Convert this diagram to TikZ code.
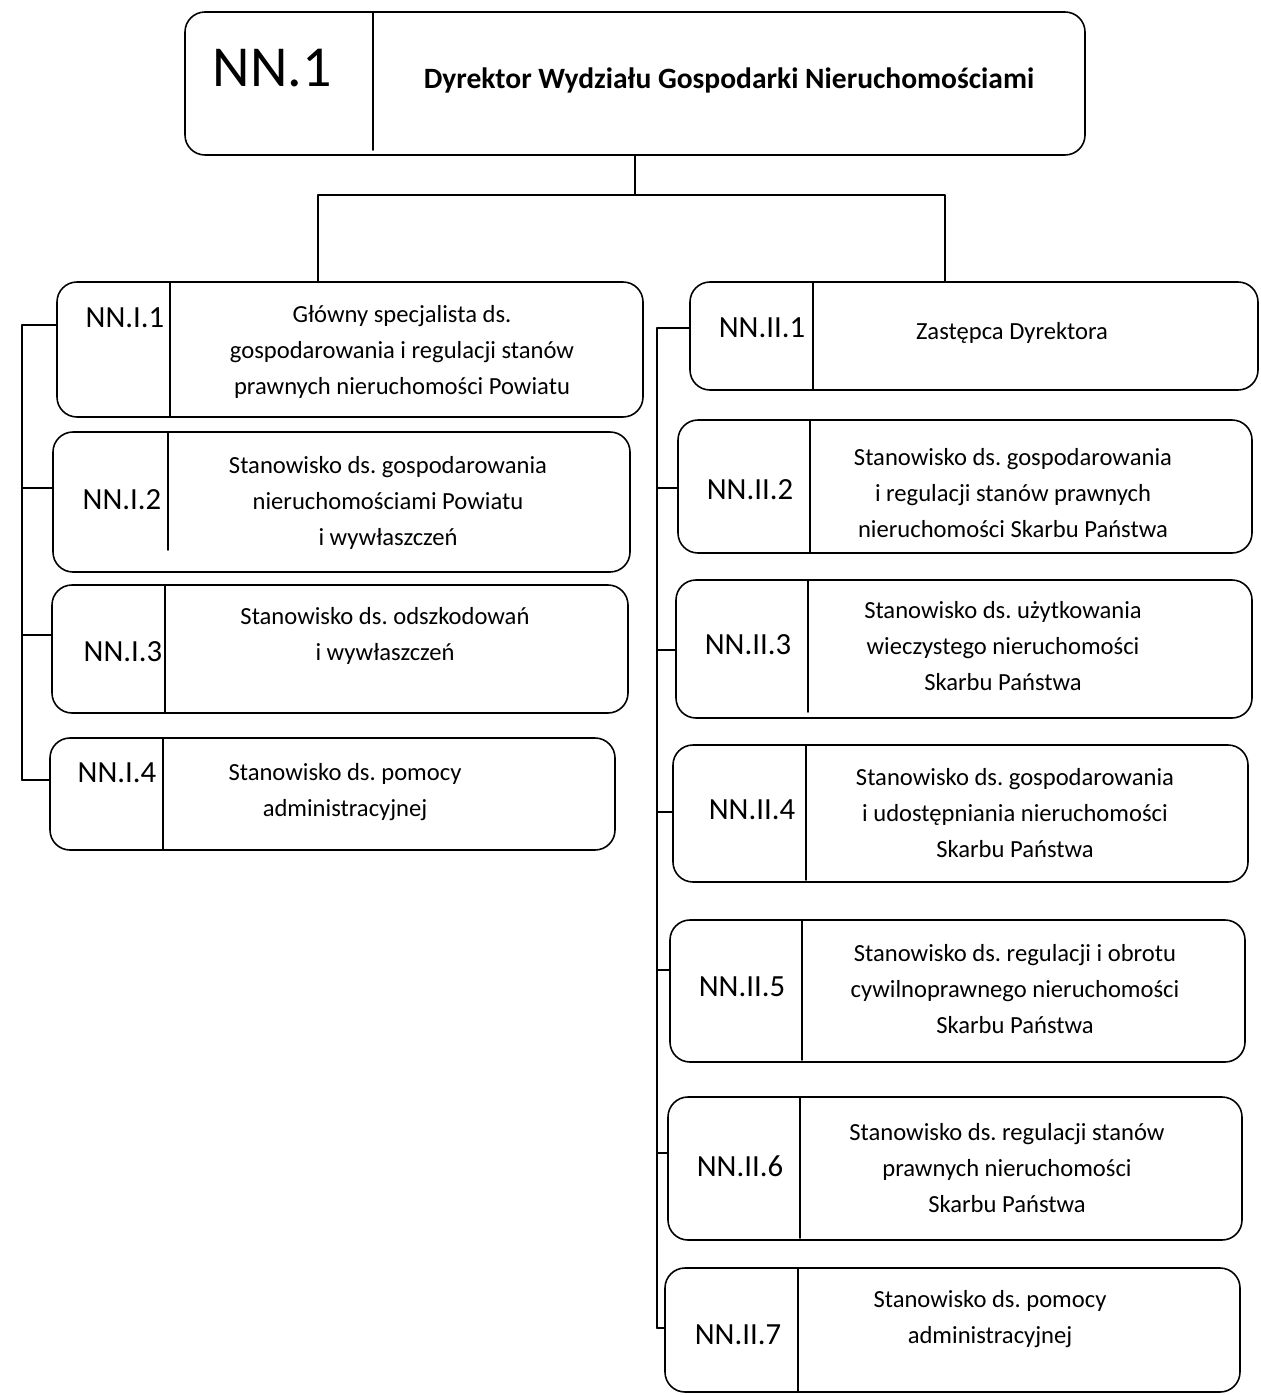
\documentclass[tikz,border=0pt]{standalone}
\usepackage{fontspec}
\setmainfont{Carlito}
\frenchspacing
\begin{document}
\begin{tikzpicture}[x=0.2mm, y=-0.2mm, line join=round, line cap=round, line width=0.9pt,
    box/.style={draw, rounded corners=4mm, inner sep=0pt},
    lbl/.style={font=\fontsize{17.5}{20}\selectfont},
    txt/.style={align=center, font=\fontsize{14}{20.5}\selectfont}]
\useasboundingbox (0,0) rectangle (1260,1395);
% top box
\node[box, minimum width=180mm, minimum height=28.6mm] (top) at (635,83.5) {};
\draw (373,12) -- (373,150);
\node[font=\fontsize{33}{40}\selectfont] (l-top) at (272,68) {NN.1};
\node[font=\fontsize{16.8}{20}\selectfont\bfseries] (t-top) at (729,80) {Dyrektor Wydziału Gospodarki Nieruchomościami};
% left column
\node[box, minimum width=117.2mm, minimum height=27mm] (i1) at (350,349.5) {};
\node[box, minimum width=115.4mm, minimum height=28mm] (i2) at (341.5,502) {};
\node[box, minimum width=115.2mm, minimum height=25.6mm] (i3) at (340,649) {};
\node[box, minimum width=113mm, minimum height=22.4mm] (i4) at (332.5,794) {};
\draw (170,282) -- (170,417);
\draw (168,432) -- (168,550);
\draw (165,585) -- (165,713);
\draw (163,738) -- (163,850);
\node[lbl] (l-i1) at (125,318) {NN.I.1};
\node[lbl] (l-i2) at (122,500) {NN.I.2};
\node[lbl] (l-i3) at (123,652) {NN.I.3};
\node[lbl] (l-i4) at (117,773) {NN.I.4};
\node[txt] (t-i1) at (402,352) {Główny specjalista ds.\\gospodarowania i regulacji stanów\\prawnych nieruchomości Powiatu};
\node[txt] (t-i2) at (388,503) {Stanowisko ds. gospodarowania\\nieruchomościami Powiatu\\i wywłaszczeń};
\node[txt] (t-i3) at (385,636) {Stanowisko ds. odszkodowań\\i wywłaszczeń};
\node[txt] (t-i4) at (345,792) {Stanowisko ds. pomocy\\administracyjnej};
% right column
\node[box, minimum width=113.6mm, minimum height=21.6mm] (ii1) at (974,336) {};
\node[box, minimum width=114.8mm, minimum height=26.6mm] (ii2) at (965,486.5) {};
\node[box, minimum width=115.2mm, minimum height=27.6mm] (ii3) at (964,649) {};
\node[box, minimum width=115mm, minimum height=27.4mm] (ii4) at (960.5,813.5) {};
\node[box, minimum width=115mm, minimum height=28.4mm] (ii5) at (957.5,991) {};
\node[box, minimum width=114.8mm, minimum height=28.6mm] (ii6) at (955,1168.5) {};
\node[box, minimum width=115mm, minimum height=24.8mm] (ii7) at (952.5,1330) {};
\draw (813,282) -- (813,390);
\draw (810,420) -- (810,553);
\draw (808,580) -- (808,712);
\draw (806,745) -- (806,880);
\draw (802,920) -- (802,1060);
\draw (800,1097) -- (800,1238);
\draw (798,1268) -- (798,1392);
\node[lbl] (l-ii1) at (762,328) {NN.II.1};
\node[lbl] (l-ii2) at (750,490) {NN.II.2};
\node[lbl] (l-ii3) at (748,645) {NN.II.3};
\node[lbl] (l-ii4) at (752,810) {NN.II.4};
\node[lbl] (l-ii5) at (742,987) {NN.II.5};
\node[lbl] (l-ii6) at (740,1166) {NN.II.6};
\node[lbl] (l-ii7) at (738,1335) {NN.II.7};
\node[txt] (t-ii1) at (1012,333) {Zastępca Dyrektora};
\node[txt] (t-ii2) at (1013,493) {Stanowisko ds. gospodarowania\\i regulacji stanów prawnych\\nieruchomości Skarbu Państwa};
\node[txt] (t-ii3) at (1003,646) {Stanowisko ds. użytkowania\\wieczystego nieruchomości\\Skarbu Państwa};
\node[txt] (t-ii4) at (1015,813) {Stanowisko ds. gospodarowania\\i udostępniania nieruchomości\\Skarbu Państwa};
\node[txt] (t-ii5) at (1015,989) {Stanowisko ds. regulacji i obrotu\\cywilnoprawnego nieruchomości\\Skarbu Państwa};
\node[txt] (t-ii6) at (1007,1168) {Stanowisko ds. regulacji stanów\\prawnych nieruchomości\\Skarbu Państwa};
\node[txt] (t-ii7) at (990,1319) {Stanowisko ds. pomocy\\administracyjnej};
% connectors
\coordinate (jL) at (318,195);
\coordinate (jR) at (945,195);
\draw (top.south) -- (top.south |- jL);
\draw (jL |- i1.north) -- (jL) -- (jR) -- (jR |- ii1.north);
\coordinate (bl1) at (22,325);
\coordinate (bl2) at (22,488);
\coordinate (bl3) at (22,635);
\coordinate (bl4) at (22,780);
\draw (bl1) -- (bl4);
\foreach \n in {1,...,4}
  \draw (bl\n) -- (bl\n -| i\n.west);
\coordinate (br1) at (657,328);
\coordinate (br2) at (657,488);
\coordinate (br3) at (657,650);
\coordinate (br4) at (657,812);
\coordinate (br5) at (657,970);
\coordinate (br6) at (657,1153);
\coordinate (br7) at (657,1328);
\draw (br1) -- (br7);
\foreach \n in {1,...,7}
  \draw (br\n) -- (br\n -| ii\n.west);
\end{tikzpicture}
\end{document}
